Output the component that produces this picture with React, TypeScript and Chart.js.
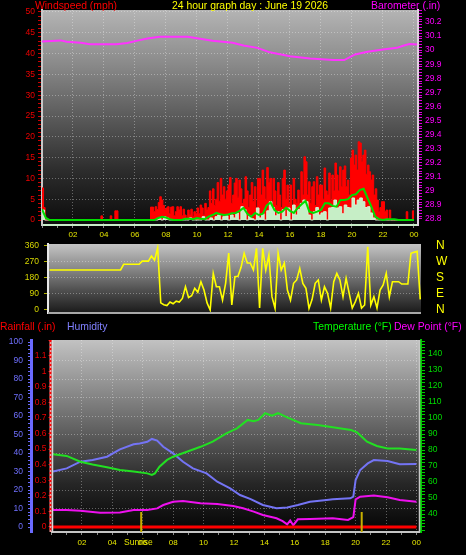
import React, { useEffect, useRef } from "react";
import { Chart, registerables } from "chart.js";
Chart.register(...registerables);

const FONT = "'Liberation Sans', Arial, sans-serif";
const TICK_FONT = "'Liberation Sans Narrow', 'Liberation Sans', Arial, sans-serif";

// ---------- shared time axis ----------
const xTickHours = [2, 4, 6, 8, 10, 12, 14, 16, 18, 20, 22, 24];
const xTickLabels = ["02", "04", "06", "08", "10", "12", "14", "16", "18", "20", "22", "00"];

// ---------- top chart: wind speed (mph) + barometer (inHg) ----------
const GUST_STEP_H = 0.1; // 6-minute samples
const windGustMph = [
  7.7, 3.0, 0, 0, 0, 0, 0, 0, 0, 0, // 00
  0, 0, 0, 0, 0, 0, 0, 0, 0, 0, // 01
  0, 0, 0, 0, 0, 0, 0, 0, 0, 0, // 02
  0, 0, 0, 0, 0, 0, 0, 0, 1.0, 0, // 03
  0, 0, 0, 0, 1.0, 0, 0, 2.2, 2.2, 0, // 04
  0, 0, 0, 0, 0, 0, 0, 0, 0, 0, // 05
  0, 0, 0, 0, 0, 0, 0, 0, 0, 0, // 06
  3.1, 3.1, 2.0, 3.2, 2.5, 4.2, 5.6, 4.8, 3.5, 2.5, // 07
  2.9, 3.2, 1.5, 3.1, 3.2, 1.0, 2.0, 3.2, 2.4, 3.2, // 08
  1.0, 2.6, 1.2, 0.5, 2.4, 1.2, 2.6, 0.8, 2.0, 1.5, // 09
  2.9, 1.5, 3.6, 2.9, 1.2, 4.0, 2.4, 3.0, 7.0, 4.0, // 10
  7.5, 3.5, 5.0, 9.0, 4.5, 10.0, 6.0, 8.0, 5.0, 7.0, // 11
  8.4, 10.2, 4.0, 6.0, 8.9, 10.0, 5.5, 9.6, 7.5, 4.0, // 12
  5.0, 10.4, 7.0, 3.0, 6.0, 9.0, 4.5, 8.0, 3.0, 10.0, // 13
  10.0, 6.0, 12.0, 8.0, 5.0, 12.6, 9.0, 10.0, 4.5, 10.0, // 14
  7.0, 3.5, 9.0, 6.0, 3.0, 10.0, 12.0, 5.0, 8.4, 4.0, // 15
  8.4, 3.5, 10.0, 5.0, 4.0, 7.2, 3.0, 11.6, 6.0, 15.2, // 16
  14.0, 6.0, 9.2, 4.0, 8.0, 9.2, 3.5, 10.4, 6.0, 8.4, // 17
  8.4, 5.0, 12.5, 7.0, 6.0, 11.3, 4.5, 10.8, 7.0, 13.7, // 18
  10.8, 7.0, 12.8, 8.0, 12.0, 13.0, 8.0, 9.6, 6.0, 14.9, // 19
  16.8, 13.2, 15.6, 12.0, 18.8, 18.5, 14.0, 15.6, 16.8, 11.0, // 20
  13.2, 11.6, 9.6, 10.8, 6.0, 7.5, 4.8, 2.0, 3.0, 4.4, // 21
  4.4, 2.0, 2.4, 0, 2.4, 0, 0, 0, 0, 0, // 22
  0, 0, 0, 0, 0, 2.0, 0, 0, 0, 2.2, // 23
  2.2,
];

const SPEED_STEP_H = 1 / 6; // 10-minute samples
const windSpeedMph = [
  2.4, 0, 0, 0, 0, 0, // 00
  0, 0, 0, 0, 0, 0, // 01
  0, 0, 0, 0, 0, 0, // 02
  0, 0, 0, 0, 0, 0, // 03
  0, 0, 0, 0, 0, 0, // 04
  0, 0, 0, 0, 0, 0, // 05
  0, 0, 0, 0, 0, 0, // 06
  0, 0, 0, 0.5, 0, 0.8, // 07
  0.5, 0, 0, 0, 0, 0, // 08
  0, 0, 0, 0.5, 0, 0, // 09
  0, 0, 0.8, 0, 0, 0.5, // 10
  0, 0.8, 1.2, 0, 0.8, 1.0, // 11
  0, 1.2, 0.5, 1.7, 0, 3.2, // 12
  2.5, 0, 1.0, 0.3, 0, 2.9, // 13
  0.5, 1.5, 0, 2.2, 4.4, 3.0, // 14
  1.0, 2.0, 0, 2.5, 0.8, 2.9, // 15
  0, 3.6, 1.2, 2.5, 4.0, 4.8, // 16
  4.4, 1.2, 0, 2.0, 3.0, 1.2, // 17
  1.7, 2.0, 0, 2.9, 3.0, 4.8, // 18
  2.9, 3.2, 1.5, 3.6, 3.0, 2.9, // 19
  5.3, 3.6, 4.8, 5.3, 4.4, 3.0, // 20
  3.2, 1.7, 0.5, 0, 0, 0, // 21
  0, 0, 0, 0, 0, 0, // 22
  0, 0, 0, 0, 0, 0, // 23
  0,
];

const AVG_STEP_H = 0.25; // 15-minute samples
const windAvgMph = [
  2.6, 0.5, 0, 0, // 00
  0, 0, 0, 0, // 01
  0, 0, 0, 0, // 02
  0, 0, 0, 0, // 03
  0, 0, 0, 0, // 04
  0, 0, 0, 0, // 05
  0, 0, 0, 0, // 06
  0, 0, 0.5, 0.8, // 07
  0.6, 0.2, 0, 0, // 08
  0, 0.3, 0.3, 0.2, // 09
  0.5, 0.3, 0.2, 0.8, // 10
  1.2, 1.7, 1.4, 1.2, // 11
  1.3, 1.6, 1.7, 2.2, // 12
  2.9, 1.5, 0.8, 1.7, // 13
  1.2, 1.5, 3.5, 4.2, // 14
  2.4, 1.7, 2.0, 3.0, // 15
  2.2, 1.7, 2.9, 3.8, // 16
  4.6, 2.0, 1.7, 2.0, // 17
  2.4, 4.0, 4.0, 3.4, // 18
  3.2, 4.8, 4.8, 5.0, // 19
  6.0, 6.2, 7.2, 7.5, // 20
  5.3, 3.2, 0.8, 0.2, // 21
  0, 0.2, 0.2, 0.2, // 22
  0, 0, 0, 0, // 23
  0,
];

const baroHours = [0, 1.2, 1.6, 2.5, 3.1, 4.8, 5.5, 6.3, 6.8, 7.6, 9.4, 10.2, 11, 12.3, 13, 13.9, 14.7, 16, 17.3, 18.8, 19.5, 20.2, 21, 22, 22.9, 23.3, 23.7, 24.2];
const baroInHg = [30.062, 30.069, 30.059, 30.052, 30.041, 30.041, 30.05, 30.071, 30.083, 30.095, 30.095, 30.08, 30.066, 30.052, 30.033, 30.016, 29.984, 29.957, 29.941, 29.929, 29.929, 29.969, 29.988, 30.005, 30.016, 30.031, 30.043, 30.04];

// ---------- middle chart: wind direction (degrees) ----------
const DIR_STEP_H = 0.2; // 12-minute samples
const windDirDeg = [
  225, 225, 225, 225, 225, // 00
  225, 225, 225, 225, 225, // 01
  225, 225, 225, 225, 225, // 02
  225, 225, 225, 225, 225, // 03
  225, 225, 225, 225, 257, // 04
  257, 257, 257, 257, 257, // 05
  275, 275, 275, 304, 280, // 06
  350, 40, 30, 25, 45, // 07
  35, 50, 45, 65, 131, // 08
  70, 80, 122, 100, 159, // 09
  112, 40, 0, 206, 131, // 10
  131, 56, 150, 320, 28, // 11
  187, 190, 240, 319, 264, // 12
  264, 225, 347, 11, 347, // 13
  225, 309, 75, 9, 319, // 14
  225, 264, 112, 56, 150, // 15
  169, 234, 150, 122, 9, // 16
  60, 150, 169, 56, 131, // 17
  94, 11, 159, 206, 169, // 18
  75, 178, 94, 11, 47, // 19
  94, 11, 28, 356, 28, // 20
  75, 11, 112, 141, 206, // 21
  75, 159, 159, 159, 146, // 22
  146, 146, 319, 325, 330, // 23
  60,
];
const compassDeg = [0, 90, 180, 270, 360];
const compassLabels = ["N", "E", "S", "W", "N"];
const dirTickDeg = [0, 90, 180, 270, 360];

// ---------- bottom chart ----------
const humHours = [0.1, 1.0, 1.9, 2.7, 3.65, 4.5, 5.4, 5.8, 6.3, 6.6, 6.95, 7.35, 8.0, 8.65, 9.3, 10.2, 10.9, 11.75, 12.4, 13.1, 13.9, 14.8, 15.5, 16.2, 17.0, 18.1, 18.5, 19.65, 19.85, 20.0, 20.3, 20.8, 21.2, 22.1, 22.9, 24.0];
const humidityPct = [30, 31.7, 35.3, 36.2, 38, 42, 44.7, 45.2, 46.1, 47.6, 46.7, 43.4, 39.8, 35.3, 31.7, 29, 24.5, 20.9, 17.3, 15.1, 11.9, 10.1, 10.6, 11.9, 13.7, 14.6, 15, 15.5, 16.4, 25.4, 30.8, 34.4, 36.2, 35.7, 33.9, 34];

const tempHours = [0.1, 1.0, 1.9, 2.7, 3.65, 4.5, 5.4, 6.3, 6.6, 6.8, 7.1, 7.6, 8.0, 8.9, 9.8, 10.6, 11.5, 12.2, 12.9, 13.3, 13.6, 14.05, 14.5, 14.9, 15.5, 16.4, 17.5, 18.5, 19.7, 20.1, 20.75, 21.4, 22.1, 22.9, 24.0];
const temperatureF = [77.3, 76.3, 72.7, 71, 69.2, 67.5, 66.5, 65.4, 64.4, 65.4, 69.6, 73.8, 75.8, 78.9, 82, 85.2, 90.4, 93.5, 98.8, 98, 98.8, 103, 101.5, 103, 100.4, 96.7, 95.6, 94.2, 92.5, 91, 85.2, 82.5, 81, 81, 80];

const dewHours = [0.1, 1.0, 1.9, 3.2, 4.5, 5.4, 6.3, 6.95, 7.35, 8.0, 8.65, 9.8, 10.9, 11.95, 12.6, 13.3, 13.9, 14.8, 15.2, 15.5, 15.7, 15.9, 16.2, 17.0, 18.5, 19.5, 19.85, 20.0, 20.3, 21.2, 22.1, 22.9, 24.0];
const dewPointF = [42.5, 42.5, 42, 40.8, 41, 42.5, 42.5, 43.5, 45.6, 47.7, 48.1, 46.7, 46.2, 45, 43.6, 41.5, 39.4, 37.3, 35.5, 33.5, 36, 33, 36.7, 36.9, 37.3, 36.3, 38, 49.2, 50.8, 51.5, 50.4, 48.8, 47.7];

const rainHours = [0, 3, 6, 9, 12, 15, 18, 21, 24];
const rainfallIn = [0, 0, 0, 0, 0, 0, 0, 0, 0];

const SUNRISE_H = 5.9;
const SUNSET_H = 20.4;

// ---------- helpers ----------
const stepSeries = (vals: number[], step: number) => vals.map((y, i) => ({ x: i * step, y }));
const xySeries = (xs: number[], ys: number[]) => xs.map((x, i) => ({ x, y: ys[i] }));
const tickRange = (from: number, to: number, step: number) => {
  const out: number[] = [];
  const n = Math.round((to - from) / step);
  for (let i = 0; i <= n; i++) out.push(Math.round((from + i * step) * 1000) / 1000);
  return out;
};
const setTicks = (vals: number[]) => (s: any) => {
  s.ticks = vals.map((v) => ({ value: v }));
};
const fixV = (w: number) => (s: any) => {
  s.width = w;
  s.paddingTop = 0;
  s.paddingBottom = 0;
};
const fixH = (h: number) => (s: any) => {
  s.height = h;
  s.paddingLeft = 0;
  s.paddingRight = 0;
};
const isMult = (v: number, n: number) => Math.abs(v / n - Math.round(v / n)) < 1e-6;
const NONE = "rgba(0,0,0,0)";
const gridEvery = (n: number, color: string, skip?: (v: number) => boolean) => (ctx: any) => {
  const v = ctx.tick ? ctx.tick.value : undefined;
  if (v === undefined) return NONE;
  if (skip && skip(v)) return NONE;
  return isMult(v, n) ? color : NONE;
};
const fmt1 = (v: number) => {
  const s = v.toFixed(1);
  return s.endsWith(".0") ? s.slice(0, -2) : s;
};
const xLabel = (v: number) => {
  const i = xTickHours.indexOf(v);
  return i >= 0 ? xTickLabels[i] : "";
};

function decor(bg: string[], after?: (chart: any) => void) {
  return {
    id: "decor",
    beforeDraw(chart: any) {
      const { ctx, chartArea: a } = chart;
      const g = ctx.createLinearGradient(0, a.top, 0, a.bottom);
      bg.forEach((c, i) => g.addColorStop(i / (bg.length - 1), c));
      ctx.save();
      ctx.fillStyle = g;
      ctx.fillRect(a.left, a.top, a.right - a.left, a.bottom - a.top);
      ctx.restore();
    },
    afterDatasetsDraw(chart: any) {
      if (after) {
        chart.ctx.save();
        after(chart);
        chart.ctx.restore();
      }
    },
  };
}

const GRID_DOT = "rgba(255,255,255,0.33)";

const baseOptions = (padding: any) => ({
  responsive: false,
  animation: false as const,
  events: [] as any[],
  layout: { padding },
  elements: { point: { radius: 0 }, line: { tension: 0 } },
  plugins: { legend: { display: false }, tooltip: { enabled: false } },
});

function topConfig(): any {
  return {
    type: "line",
    data: {
      datasets: [
        { label: "Barometer", data: xySeries(baroHours, baroInHg), yAxisID: "yBaro", borderColor: "#ff33ff", borderWidth: 2, fill: false, order: 0 },
        { label: "Average wind", data: stepSeries(windAvgMph, AVG_STEP_H), yAxisID: "yWind", borderColor: "#00dd00", borderWidth: 2, fill: false, order: 1 },
        { label: "Wind speed", data: stepSeries(windSpeedMph, SPEED_STEP_H), yAxisID: "yWind", borderColor: "#d4f4d4", backgroundColor: "#c6eec6", borderWidth: 1, fill: "origin", stepped: true, order: 2 },
        { label: "Gust", data: stepSeries(windGustMph, GUST_STEP_H), yAxisID: "yWind", borderColor: "#ff0000", backgroundColor: "#ff0000", borderWidth: 1, fill: "origin", stepped: true, order: 3 },
      ],
    },
    options: {
      ...baseOptions({ top: 10, left: 0, right: 0, bottom: 0 }),
      scales: {
        x: {
          type: "linear", min: 0, max: 24.26,
          afterBuildTicks: setTicks(tickRange(0, 24, 1)),
          afterFit: fixH(15),
          ticks: { autoSkip: false, maxRotation: 0, color: "#e6e600", font: { family: TICK_FONT, size: 8 }, padding: 2, callback: (v: number) => xLabel(v) },
          grid: { color: gridEvery(2, GRID_DOT, (v) => v === 0), tickColor: "#8a8a8a", tickLength: 3 },
          border: { display: true, color: "#c8ecc8", width: 2, dash: [1, 2] },
        },
        yWind: {
          position: "left", min: -1.2, max: 50.48,
          afterBuildTicks: setTicks(tickRange(0, 50, 1)),
          afterFit: fixV(42),
          ticks: { autoSkip: false, color: "#ee0000", font: { family: TICK_FONT, size: 8.5 }, padding: 3, callback: (v: number) => (isMult(v, 5) ? String(v) : "") },
          grid: { color: gridEvery(5, GRID_DOT, (v) => v === 0), tickColor: "#cc0000", tickLength: 4 },
          border: { display: true, color: "#c8c8c8", width: 2, dash: [1, 2] },
        },
        yBaro: {
          position: "right", min: 28.757, max: 30.285,
          afterBuildTicks: setTicks(tickRange(28.8, 30.28, 0.02)),
          afterFit: fixV(48),
          ticks: { autoSkip: false, color: "#ff00ff", font: { family: TICK_FONT, size: 8.5 }, padding: 3, callback: (v: number) => (isMult(v, 0.1) ? fmt1(v) : "") },
          grid: { drawOnChartArea: false, tickColor: "#dd00dd", tickLength: 4 },
          border: { display: true, color: "#e0d0e0", width: 2 },
        },
      },
    },
    plugins: [decor(["#b4b4b4", "#8a8a8a", "#5a5a5a", "#2c2c2c", "#0c0c0c"])],
  };
}

function dirConfig(): any {
  return {
    type: "line",
    data: {
      datasets: [
        { label: "Wind direction", data: stepSeries(windDirDeg, DIR_STEP_H), yAxisID: "yDir", borderColor: "#ffff00", borderWidth: 1.6, fill: false },
      ],
    },
    options: {
      ...baseOptions({ top: 4, left: 0, right: 0, bottom: 7 }),
      scales: {
        x: { type: "linear", min: -0.1, max: 24.05, display: false },
        yDir: {
          position: "left", min: -16.9, max: 371.25,
          afterBuildTicks: setTicks(dirTickDeg),
          afterFit: fixV(48),
          ticks: { autoSkip: false, color: "#d8d800", font: { family: TICK_FONT, size: 8.5 }, padding: 5, callback: (v: number) => String(v) },
          grid: { color: gridEvery(90, GRID_DOT, (v) => v === 0 || v === 360), tickColor: "#b0b000", tickLength: 4 },
          border: { display: true, color: "#e8e8e8", width: 2, dash: [1, 2] },
        },
        yCompass: {
          position: "right", min: -16.9, max: 371.25,
          afterBuildTicks: setTicks(compassDeg),
          afterFit: fixV(45),
          ticks: { autoSkip: false, color: "#ffff00", font: { family: FONT, size: 12 }, padding: 3, callback: (v: number) => compassLabels[compassDeg.indexOf(v)] || "" },
          grid: { drawOnChartArea: false, drawTicks: true, tickLength: 12, tickColor: NONE },
          border: { display: false },
        },
      },
    },
    plugins: [
      decor(["#c4c4c4", "#8c8c8c", "#505050", "#1a1a1a"], (chart: any) => {
        const { ctx, chartArea: a } = chart;
        ctx.strokeStyle = "#a8a8a8";
        ctx.lineWidth = 2;
        ctx.beginPath();
        ctx.moveTo(a.left, a.bottom);
        ctx.lineTo(a.right, a.bottom);
        ctx.stroke();
      }),
    ],
  };
}

function bottomConfig(): any {
  return {
    type: "line",
    data: {
      datasets: [
        { label: "Rainfall", data: xySeries(rainHours, rainfallIn), yAxisID: "yRain", borderColor: "#ff0000", borderWidth: 3, fill: false, order: 0 },
        { label: "Dew Point", data: xySeries(dewHours, dewPointF), yAxisID: "yTemp", borderColor: "#ee10ee", borderWidth: 2, fill: false, order: 1 },
        { label: "Temperature", data: xySeries(tempHours, temperatureF), yAxisID: "yTemp", borderColor: "#22e022", borderWidth: 2, fill: false, order: 2 },
        { label: "Humidity", data: xySeries(humHours, humidityPct), yAxisID: "yHum", borderColor: "#7474f4", borderWidth: 2, fill: false, order: 3 },
      ],
    },
    options: {
      ...baseOptions({ top: 20, left: 0, right: 0, bottom: 0 }),
      scales: {
        x: {
          type: "linear", min: 0, max: 24.3,
          afterBuildTicks: setTicks(tickRange(0, 24, 1)),
          afterFit: fixH(23),
          ticks: { autoSkip: false, maxRotation: 0, color: "#e6e600", font: { family: TICK_FONT, size: 8 }, padding: 3, callback: (v: number) => xLabel(v) },
          grid: { color: gridEvery(2, GRID_DOT, (v) => v === 0), tickColor: "#8a8a8a", tickLength: 3 },
          border: { display: true, color: "#c4c4c4", width: 2, dash: [1, 2] },
        },
        yHum: {
          position: "left", weight: 2, min: -2.7, max: 101.1,
          afterBuildTicks: setTicks(tickRange(0, 100, 2)),
          afterFit: fixV(31),
          ticks: { autoSkip: false, color: "#7070ff", font: { family: TICK_FONT, size: 8.5 }, padding: 5, callback: (v: number) => (isMult(v, 10) ? String(v) : "") },
          grid: { color: gridEvery(10, GRID_DOT, (v) => v === 0 || v === 100), tickColor: "#6a6aff", tickLength: 3 },
          border: { display: true, color: "#6a6aff", width: 3, dash: [1, 2] },
        },
        yRain: {
          position: "left", weight: 1, min: -0.0321, max: 1.2,
          afterBuildTicks: setTicks(tickRange(0, 1.2, 0.1)),
          afterFit: fixV(20.5),
          ticks: { autoSkip: false, color: "#ee0000", font: { family: TICK_FONT, size: 8.5 }, padding: 2, callback: (v: number) => (v > 1.15 ? "" : fmt1(v)) },
          grid: { drawOnChartArea: false, tickColor: "#e00000", tickLength: 3 },
          border: { display: false },
        },
        yTemp: {
          position: "right", min: 28.75, max: 148.75,
          afterBuildTicks: setTicks(tickRange(30, 148, 2)),
          afterFit: fixV(45),
          ticks: { autoSkip: false, color: "#00dd00", font: { family: TICK_FONT, size: 8.5 }, padding: 3, callback: (v: number) => (isMult(v, 10) && v >= 40 ? String(v) : "") },
          grid: { drawOnChartArea: false, tickColor: "#00cc00", tickLength: 4 },
          border: { display: true, color: "#00c800", width: 2 },
        },
      },
    },
    plugins: [
      decor(["#c2c2c2", "#8e8e8e", "#5a5a5a", "#262626", "#040404"], (chart: any) => {
        const { ctx, chartArea: a, scales } = chart;
        ctx.lineWidth = 2;
        ctx.strokeStyle = "#ff9a9a";
        ctx.beginPath(); ctx.moveTo(a.left - 1, a.top); ctx.lineTo(a.left - 1, a.bottom); ctx.stroke();
        ctx.strokeStyle = "#ff0000";
        ctx.setLineDash([2, 2]);
        ctx.beginPath(); ctx.moveTo(a.left - 1, a.top); ctx.lineTo(a.left - 1, a.bottom); ctx.stroke();
        ctx.setLineDash([]);
        ctx.strokeStyle = "#d8d8d8";
        ctx.lineWidth = 1.5;
        ctx.beginPath(); ctx.moveTo(a.left + 1, a.top); ctx.lineTo(a.left + 1, a.bottom); ctx.stroke();
        ctx.strokeStyle = "#c8c8c8";
        ctx.beginPath(); ctx.moveTo(a.right - 1.5, a.top); ctx.lineTo(a.right - 1.5, a.bottom); ctx.stroke();
        ctx.strokeStyle = "#c8b000";
        ctx.lineWidth = 2;
        [SUNRISE_H, SUNSET_H].forEach((h) => {
          const px = scales.x.getPixelForValue(h);
          ctx.beginPath(); ctx.moveTo(px, a.bottom - 20); ctx.lineTo(px, a.bottom); ctx.stroke();
        });
      }),
    ],
  };
}

const TITLE_SIZE = 10.4;
const textStyle = (left: number, top: number, color: string, size = TITLE_SIZE): React.CSSProperties => ({
  position: "absolute", left, top, color, fontFamily: FONT, fontSize: size, lineHeight: `${Math.round(size + 1)}px`, whiteSpace: "nowrap",
});

export default function App() {
  const topRef = useRef<HTMLCanvasElement>(null);
  const dirRef = useRef<HTMLCanvasElement>(null);
  const botRef = useRef<HTMLCanvasElement>(null);

  useEffect(() => {
    const charts: Chart[] = [];
    if (topRef.current) charts.push(new Chart(topRef.current, topConfig()));
    if (dirRef.current) charts.push(new Chart(dirRef.current, dirConfig()));
    if (botRef.current) charts.push(new Chart(botRef.current, bottomConfig()));
    return () => charts.forEach((c) => c.destroy());
  }, []);

  return (
    <div style={{ position: "fixed", left: 0, top: 0, width: 466, height: 555, background: "#000", overflow: "hidden" }}>
      <canvas ref={topRef} width={466} height={240} style={{ position: "absolute", left: 0, top: 0 }} />
      <canvas ref={dirRef} width={466} height={80} style={{ position: "absolute", left: 0, top: 240 }} />
      <canvas ref={botRef} width={466} height={235} style={{ position: "absolute", left: 0, top: 320 }} />
      <div style={textStyle(35, 0, "#ff0000")}>Windspeed (mph)</div>
      <div style={textStyle(172, 0, "#ffff00")}>24 hour graph day : June 19 2026</div>
      <div style={textStyle(371, 0, "#ff00ff")}>Barometer (.in)</div>
      <div style={textStyle(0, 321, "#ff0000")}>Rainfall (.in)</div>
      <div style={textStyle(67, 321, "#8080ff")}>Humidity</div>
      <div style={textStyle(313, 321, "#00ff00")}>Temperature (°F)</div>
      <div style={textStyle(394, 321, "#ff00ff")}>Dew Point (°F)</div>
      <div style={textStyle(124, 537, "#e6e600", 8.5)}>Sunrise</div>
    </div>
  );
}
